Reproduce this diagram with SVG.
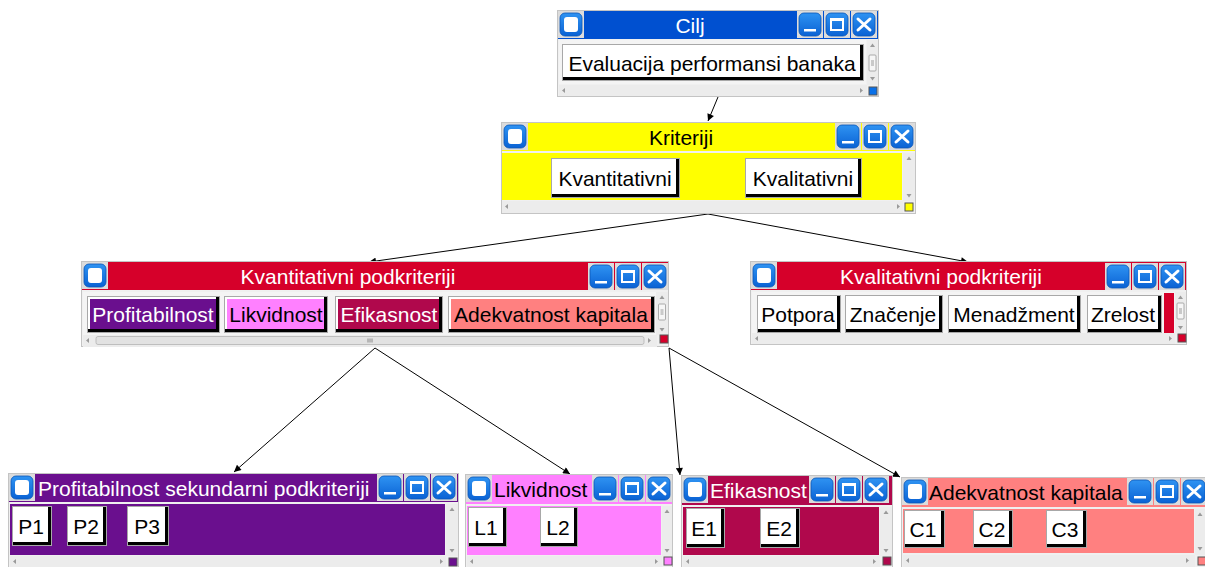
<svg xmlns="http://www.w3.org/2000/svg" width="1205" height="567" viewBox="0 0 1205 567">
<style>
.t{font-family:"Liberation Sans",Arial,sans-serif;font-size:21px}
.w{fill:#fff}.k{fill:#000}
.frame{fill:#f0f0f0;stroke:#c4c4c4;stroke-width:1}
.sb{fill:#ececec}
.bo{fill:#a8a8a8}.bs{fill:#000}.bh{fill:#fff}
.sep{fill:#f4f4f4}
.ar{fill:#9a9a9a}
.cn{fill:none;stroke:#000;stroke-width:1}
.cs{stroke:#555;stroke-width:1}
</style>
<defs>
<linearGradient id="bg" x1="0" y1="0" x2="0" y2="1">
<stop offset="0" stop-color="#2f93f2"/><stop offset="1" stop-color="#0a62d4"/>
</linearGradient>
<g id="ico">
<rect x="0" y="0" width="26" height="27" fill="#dcdcdc"/>
<rect x="2" y="2" width="22" height="23" rx="5" fill="url(#bg)" stroke="#0a56b8" stroke-width="0.8"/>
<rect x="6" y="6" width="14" height="15" rx="3" fill="#fff"/>
</g>
<g id="ctl">
<rect x="0" y="0" width="26" height="27" fill="#dcdcdc"/>
<rect x="2" y="2" width="22" height="23" rx="5" fill="url(#bg)" stroke="#0a56b8" stroke-width="0.8"/>
<rect x="7" y="18" width="12" height="2.5" fill="#fff"/>
<rect x="27" y="0" width="26" height="27" fill="#dcdcdc"/>
<rect x="29" y="2" width="22" height="23" rx="5" fill="url(#bg)" stroke="#0a56b8" stroke-width="0.8"/>
<rect x="34" y="8" width="12" height="11" fill="none" stroke="#fff" stroke-width="2"/>
<rect x="33" y="7" width="14" height="3" fill="#fff"/>
<rect x="54" y="0" width="26" height="27" fill="#dcdcdc"/>
<rect x="56" y="2" width="22" height="23" rx="5" fill="url(#bg)" stroke="#0a56b8" stroke-width="0.8"/>
<path d="M61,8 L73,19 M73,8 L61,19" stroke="#fff" stroke-width="3" stroke-linecap="round"/>
</g>
<g id="vth">
<rect x="0" y="0" width="7" height="16" rx="1" fill="#f6f6f6" stroke="#9a9a9a" stroke-width="0.8"/>
<path d="M2,6 H5 M2,8 H5 M2,10 H5" stroke="#888" stroke-width="0.8"/>
</g>
<marker id="ah" viewBox="0 0 10 10" refX="10" refY="5" markerWidth="9" markerHeight="7" markerUnits="userSpaceOnUse" orient="auto">
<path d="M0,0 L10,5 L0,10 z" fill="#000"/>
</marker>
</defs>

<g id="connectors">
<path class="cn" d="M718,97 L708,121" marker-end="url(#ah)"/>
<path class="cn" d="M708,214 L369,262" marker-end="url(#ah)"/>
<path class="cn" d="M708,214 L968,262" marker-end="url(#ah)"/>
<path class="cn" d="M375,348 L234,472" marker-end="url(#ah)"/>
<path class="cn" d="M375,348 L570,474" marker-end="url(#ah)"/>
<path class="cn" d="M669,348 L680,475" marker-end="url(#ah)"/>
<path class="cn" d="M669,348 L900,477" marker-end="url(#ah)"/>
</g>

<!-- Cilj -->
<g id="cilj">
<rect class="frame" x="557.5" y="10.5" width="321" height="86"/>
<rect x="558" y="11" width="320" height="28" fill="#0050d0"/>
<use href="#ico" x="558" y="11"/>
<use href="#ctl" x="797" y="11"/>
<text class="t w" x="690" y="33" text-anchor="middle">Cilj</text>
<rect class="sep" x="559" y="40" width="307" height="44"/>
<rect class="bo" x="562" y="44" width="302" height="37"/>
<rect class="bs" x="563" y="45" width="300" height="35"/>
<rect class="bh" x="563" y="45" width="297" height="32"/>
<text class="t k" x="712" y="71" text-anchor="middle">Evaluacija performansi banaka</text>
<rect class="sb" x="867" y="40" width="11" height="45"/>
<path class="ar" d="M870,47 L872.5,43.5 L875,47 z"/>
<use href="#vth" x="869" y="55"/>
<path class="ar" d="M870,77 L875,77 L872.5,80.5 z"/>
<rect class="sb" x="559" y="85" width="308" height="11"/>
<path class="ar" d="M565,88 L562,90.5 L565,93 z"/>
<path class="ar" d="M860,88 L863,90.5 L860,93 z"/>
<rect x="869" y="87" width="8" height="8" fill="#0a70e8" class="cs"/>
</g>

<!-- Kriteriji -->
<g id="kriteriji">
<rect class="frame" x="501.5" y="122.5" width="414" height="91"/>
<rect x="502" y="123" width="413" height="28" fill="#ffff00"/>
<use href="#ico" x="502" y="123"/>
<use href="#ctl" x="835" y="123"/>
<text class="t k" x="681" y="145" text-anchor="middle">Kriteriji</text>
<rect x="502" y="153" width="400" height="47" fill="#ffff00"/>
<rect class="bo" x="551" y="158" width="129" height="40"/>
<rect class="bs" x="552" y="159" width="127" height="38"/>
<rect class="bh" x="552" y="159" width="124" height="35"/>
<text class="t k" x="615" y="186" text-anchor="middle">Kvantitativni</text>
<rect class="bo" x="745" y="158" width="117" height="40"/>
<rect class="bs" x="746" y="159" width="115" height="38"/>
<rect class="bh" x="746" y="159" width="112" height="35"/>
<text class="t k" x="803" y="186" text-anchor="middle">Kvalitativni</text>
<rect class="sb" x="903" y="153" width="12" height="48"/>
<path class="ar" d="M906.5,160 L909,156.5 L911.5,160 z"/>
<path class="ar" d="M906.5,194 L911.5,194 L909,197.5 z"/>
<rect class="sb" x="502" y="201" width="401" height="12"/>
<path class="ar" d="M508,204 L505,206.5 L508,209 z"/>
<path class="ar" d="M897,204 L900,206.5 L897,209 z"/>
<rect x="905" y="203" width="8" height="8" fill="#ffff00" class="cs"/>
</g>

<!-- Kvantitativni podkriteriji -->
<g id="kvantitativni">
<rect class="frame" x="81.5" y="261.5" width="587" height="85"/>
<rect x="82" y="262" width="586" height="28" fill="#d6002a"/>
<use href="#ico" x="82" y="262"/>
<use href="#ctl" x="588" y="263"/>
<text class="t w" x="348" y="284" text-anchor="middle">Kvantitativni podkriteriji</text>
<rect class="sep" x="83" y="292" width="573" height="43"/>
<rect class="bo" x="87" y="296" width="133" height="37"/>
<rect class="bs" x="88" y="297" width="131" height="35"/>
<rect class="bh" x="88" y="297" width="128" height="32"/>
<rect x="90" y="299" width="126" height="30" fill="#6a0f8e"/>
<text class="t w" x="153" y="322" text-anchor="middle">Profitabilnost</text>
<rect class="bo" x="224" y="296" width="104" height="37"/>
<rect class="bs" x="225" y="297" width="102" height="35"/>
<rect class="bh" x="225" y="297" width="99" height="32"/>
<rect x="227" y="299" width="97" height="30" fill="#ff80ff"/>
<text class="t k" x="276" y="322" text-anchor="middle">Likvidnost</text>
<rect class="bo" x="335" y="296" width="108" height="37"/>
<rect class="bs" x="336" y="297" width="106" height="35"/>
<rect class="bh" x="336" y="297" width="103" height="32"/>
<rect x="338" y="299" width="101" height="30" fill="#b0084c"/>
<text class="t w" x="389" y="322" text-anchor="middle">Efikasnost</text>
<rect class="bo" x="448" y="296" width="207" height="37"/>
<rect class="bs" x="449" y="297" width="205" height="35"/>
<rect class="bh" x="449" y="297" width="202" height="32"/>
<rect x="451" y="299" width="200" height="30" fill="#ff8080"/>
<text class="t k" x="551" y="322" text-anchor="middle">Adekvatnost kapitala</text>
<rect class="sb" x="656" y="292" width="12" height="43"/>
<path class="ar" d="M659.5,299 L662,295.5 L664.5,299 z"/>
<use href="#vth" x="658.5" y="304"/>
<path class="ar" d="M659.5,328 L664.5,328 L662,331.5 z"/>
<rect class="sb" x="83" y="335" width="574" height="12"/>
<path class="ar" d="M89,338 L86,340.5 L89,343 z"/>
<rect x="96" y="336.5" width="548" height="8" rx="2" fill="#e2e2e2" stroke="#b4b4b4" stroke-width="0.8"/>
<path d="M368,338.5 V342.5 M370,338.5 V342.5 M372,338.5 V342.5" stroke="#777" stroke-width="0.8"/>
<path class="ar" d="M648,338 L651,340.5 L648,343 z"/>
<rect x="660" y="335" width="8" height="8" fill="#d6002a" class="cs"/>
</g>

<!-- Kvalitativni podkriteriji -->
<g id="kvalitativni">
<rect class="frame" x="750.5" y="261.5" width="436" height="83"/>
<rect x="751" y="262" width="435" height="28" fill="#d6002a"/>
<use href="#ico" x="751" y="262"/>
<use href="#ctl" x="1105" y="263"/>
<text class="t w" x="941" y="284" text-anchor="middle">Kvalitativni podkriteriji</text>
<rect class="sep" x="752" y="292" width="423" height="41"/>
<rect class="bo" x="757" y="295" width="84" height="38"/>
<rect class="bs" x="758" y="296" width="82" height="36"/>
<rect class="bh" x="758" y="296" width="79" height="33"/>
<text class="t k" x="798" y="322" text-anchor="middle">Potpora</text>
<rect class="bo" x="845" y="295" width="98" height="38"/>
<rect class="bs" x="846" y="296" width="96" height="36"/>
<rect class="bh" x="846" y="296" width="93" height="33"/>
<text class="t k" x="893" y="322" text-anchor="middle">Značenje</text>
<rect class="bo" x="948" y="295" width="133" height="38"/>
<rect class="bs" x="949" y="296" width="131" height="36"/>
<rect class="bh" x="949" y="296" width="128" height="33"/>
<text class="t k" x="1014" y="322" text-anchor="middle">Menadžment</text>
<rect class="bo" x="1087" y="295" width="75" height="38"/>
<rect class="bs" x="1088" y="296" width="73" height="36"/>
<rect class="bh" x="1088" y="296" width="70" height="33"/>
<text class="t k" x="1123" y="322" text-anchor="middle">Zrelost</text>
<rect x="1164" y="293" width="10" height="40" fill="#d6002a"/>
<rect class="sb" x="1175" y="292" width="11" height="41"/>
<path class="ar" d="M1178,299 L1180.5,295.5 L1183,299 z"/>
<use href="#vth" x="1177" y="303"/>
<path class="ar" d="M1178,326 L1183,326 L1180.5,329.5 z"/>
<rect class="sb" x="752" y="333" width="423" height="11"/>
<path class="ar" d="M758,336 L755,338.5 L758,341 z"/>
<path class="ar" d="M1169,336 L1172,338.5 L1169,341 z"/>
<rect x="1178" y="334" width="8" height="8" fill="#d6002a" class="cs"/>
</g>

<!-- Profitabilnost sekundarni podkriteriji -->
<g id="profitabilnost">
<rect class="frame" x="8.5" y="473.5" width="450" height="100"/>
<rect x="9" y="474" width="449" height="28" fill="#6a0f8e"/>
<use href="#ico" x="9" y="474"/>
<use href="#ctl" x="377" y="474"/>
<text class="t w" x="38" y="496">Profitabilnost sekundarni podkriteriji</text>
<rect x="10" y="504" width="435" height="51" fill="#6a0f8e"/>
<rect class="bo" x="12" y="506" width="40" height="40"/>
<rect class="bs" x="13" y="507" width="38" height="38"/>
<rect class="bh" x="13" y="507" width="35" height="35"/>
<text class="t k" x="31" y="534" text-anchor="middle">P1</text>
<rect class="bo" x="67" y="506" width="40" height="40"/>
<rect class="bs" x="68" y="507" width="38" height="38"/>
<rect class="bh" x="68" y="507" width="35" height="35"/>
<text class="t k" x="86" y="534" text-anchor="middle">P2</text>
<rect class="bo" x="127" y="506" width="42" height="40"/>
<rect class="bs" x="128" y="507" width="40" height="38"/>
<rect class="bh" x="128" y="507" width="37" height="35"/>
<text class="t k" x="147" y="534" text-anchor="middle">P3</text>
<rect class="sb" x="446" y="504" width="12" height="52"/>
<path class="ar" d="M449.5,511 L452,507.5 L454.5,511 z"/>
<path class="ar" d="M449.5,549 L454.5,549 L452,552.5 z"/>
<rect class="sb" x="10" y="556" width="436" height="11"/>
<path class="ar" d="M16,559 L13,561.5 L16,564 z"/>
<path class="ar" d="M440,559 L443,561.5 L440,564 z"/>
<rect x="449" y="558" width="8" height="8" fill="#6a0f8e" class="cs"/>
</g>

<!-- Likvidnost -->
<g id="likvidnost">
<rect class="frame" x="465.5" y="474.5" width="207" height="100"/>
<rect x="466" y="475" width="206" height="29" fill="#ff80ff"/>
<use href="#ico" x="466" y="475"/>
<use href="#ctl" x="592" y="475"/>
<text class="t k" x="494" y="497">Likvidnost</text>
<rect x="467" y="506" width="194" height="49" fill="#ff80ff"/>
<rect class="bo" x="468" y="507" width="39" height="40"/>
<rect class="bs" x="469" y="508" width="37" height="38"/>
<rect class="bh" x="469" y="508" width="34" height="35"/>
<text class="t k" x="486" y="535" text-anchor="middle">L1</text>
<rect class="bo" x="540" y="507" width="38" height="40"/>
<rect class="bs" x="541" y="508" width="36" height="38"/>
<rect class="bh" x="541" y="508" width="33" height="35"/>
<text class="t k" x="558" y="535" text-anchor="middle">L2</text>
<rect class="sb" x="662" y="506" width="10" height="50"/>
<path class="ar" d="M664.5,513 L667,509.5 L669.5,513 z"/>
<path class="ar" d="M664.5,549 L669.5,549 L667,552.5 z"/>
<rect class="sb" x="467" y="556" width="195" height="11"/>
<path class="ar" d="M473,559 L470,561.5 L473,564 z"/>
<path class="ar" d="M655,559 L658,561.5 L655,564 z"/>
<rect x="664" y="557" width="8" height="8" fill="#ff80ff" class="cs"/>
</g>

<!-- Efikasnost -->
<g id="efikasnost">
<rect class="frame" x="681.5" y="475.5" width="211" height="100"/>
<rect x="682" y="476" width="210" height="29" fill="#b0084c"/>
<use href="#ico" x="682" y="476"/>
<use href="#ctl" x="809" y="476"/>
<text class="t w" x="710" y="498">Efikasnost</text>
<rect x="683" y="507" width="196" height="48" fill="#b0084c"/>
<rect class="bo" x="686" y="508" width="39" height="40"/>
<rect class="bs" x="687" y="509" width="37" height="38"/>
<rect class="bh" x="687" y="509" width="34" height="35"/>
<text class="t k" x="704" y="536" text-anchor="middle">E1</text>
<rect class="bo" x="760" y="508" width="40" height="40"/>
<rect class="bs" x="761" y="509" width="38" height="38"/>
<rect class="bh" x="761" y="509" width="35" height="35"/>
<text class="t k" x="779" y="536" text-anchor="middle">E2</text>
<rect class="sb" x="880" y="507" width="12" height="49"/>
<path class="ar" d="M883.5,514 L886,510.5 L888.5,514 z"/>
<path class="ar" d="M883.5,549 L888.5,549 L886,552.5 z"/>
<rect class="sb" x="683" y="556" width="197" height="11"/>
<path class="ar" d="M689,559 L686,561.5 L689,564 z"/>
<path class="ar" d="M873,559 L876,561.5 L873,564 z"/>
<rect x="883" y="557" width="8" height="8" fill="#b0084c" class="cs"/>
</g>

<!-- Adekvatnost kapitala -->
<g id="adekvatnost">
<rect class="frame" x="901.5" y="477.5" width="310" height="100"/>
<rect x="902" y="478" width="303" height="29" fill="#ff8080"/>
<use href="#ico" x="902" y="478"/>
<use href="#ctl" x="1127" y="478"/>
<text class="t k" x="929" y="500">Adekvatnost kapitala</text>
<rect x="903" y="509" width="291" height="44" fill="#ff8080"/>
<rect class="bo" x="904" y="510" width="41" height="38"/>
<rect class="bs" x="905" y="511" width="39" height="36"/>
<rect class="bh" x="905" y="511" width="36" height="33"/>
<text class="t k" x="923" y="537" text-anchor="middle">C1</text>
<rect class="bo" x="973" y="510" width="40" height="38"/>
<rect class="bs" x="974" y="511" width="38" height="36"/>
<rect class="bh" x="974" y="511" width="35" height="33"/>
<text class="t k" x="992" y="537" text-anchor="middle">C2</text>
<rect class="bo" x="1046" y="510" width="41" height="38"/>
<rect class="bs" x="1047" y="511" width="39" height="36"/>
<rect class="bh" x="1047" y="511" width="36" height="33"/>
<text class="t k" x="1065" y="537" text-anchor="middle">C3</text>
<rect class="sb" x="1195" y="509" width="10" height="46"/>
<path class="ar" d="M1197.5,516 L1200,512.5 L1202.5,516 z"/>
<path class="ar" d="M1197.5,547 L1202.5,547 L1200,550.5 z"/>
<rect class="sb" x="903" y="555" width="292" height="12"/>
<path class="ar" d="M909,558 L906,560.5 L909,563 z"/>
<path class="ar" d="M1186,558 L1189,560.5 L1186,563 z"/>
<rect x="1198" y="557" width="8" height="8" fill="#ff8080" class="cs"/>
</g>
</svg>
